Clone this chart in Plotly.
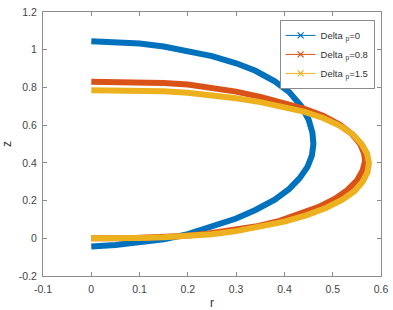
import plotly.graph_objects as go

# Delta_p = 0
r_d0 = [0.000, 0.050, 0.100, 0.150, 0.200, 0.250, 0.300, 0.340, 0.380, 0.410, 0.435, 0.450, 0.458,
        0.460, 0.457, 0.448, 0.432, 0.410, 0.380, 0.340, 0.300, 0.250, 0.200, 0.150, 0.100, 0.050, 0.000]
z_d0 = [1.045, 1.042, 1.033, 1.017, 0.995, 0.966, 0.928, 0.888, 0.832, 0.775, 0.700, 0.630, 0.560,
        0.500, 0.440, 0.380, 0.320, 0.262, 0.205, 0.150, 0.105, 0.060, 0.022, -0.005, -0.022, -0.035, -0.043]

# Delta_p = 0.8
r_d08 = [0.000, 0.050, 0.100, 0.150, 0.200, 0.250, 0.300, 0.350, 0.400, 0.440, 0.480, 0.515, 0.540,
         0.557, 0.565, 0.567, 0.562, 0.550, 0.530, 0.505, 0.470, 0.430, 0.390, 0.340, 0.290, 0.240,
         0.190, 0.140, 0.090, 0.040, 0.000]
z_d08 = [0.830, 0.830, 0.828, 0.824, 0.815, 0.800, 0.778, 0.750, 0.718, 0.688, 0.650, 0.602, 0.552,
         0.500, 0.450, 0.410, 0.360, 0.305, 0.255, 0.210, 0.165, 0.125, 0.092, 0.062, 0.040, 0.024,
         0.012, 0.005, 0.002, 0.000, 0.000]

# Delta_p = 1.5
r_d15 = [0.000, 0.050, 0.100, 0.150, 0.200, 0.250, 0.300, 0.350, 0.400, 0.440, 0.480, 0.515, 0.542,
         0.560, 0.571, 0.575, 0.572, 0.562, 0.545, 0.520, 0.487, 0.445, 0.400, 0.350, 0.300, 0.250,
         0.200, 0.150, 0.100, 0.050, 0.000]
z_d15 = [0.785, 0.785, 0.784, 0.780, 0.772, 0.760, 0.743, 0.722, 0.697, 0.672, 0.638, 0.596, 0.550,
         0.500, 0.450, 0.400, 0.350, 0.300, 0.250, 0.205, 0.162, 0.122, 0.088, 0.060, 0.038, 0.022,
         0.011, 0.005, 0.002, 0.001, 0.000]

series_names = ["Delta <sub>p</sub>=0", "Delta <sub>p</sub>=0.8", "Delta <sub>p</sub>=1.5"]
series_colors = ["#0072BD", "#D95319", "#EDB120"]

x_tickvals = [-0.1, 0, 0.1, 0.2, 0.3, 0.4, 0.5, 0.6]
x_ticktext = ["-0.1", "0", "0.1", "0.2", "0.3", "0.4", "0.5", "0.6"]
y_tickvals = [-0.2, 0, 0.2, 0.4, 0.6, 0.8, 1.0, 1.2]
y_ticktext = ["-0.2", "0", "0.2", "0.4", "0.6", "0.8", "1", "1.2"]

fig = go.Figure()
data = [(r_d0, z_d0), (r_d08, z_d08), (r_d15, z_d15)]
for (r, z), name, col in zip(data, series_names, series_colors):
    fig.add_trace(go.Scatter(x=r, y=z, mode="lines", line=dict(color=col, width=6),
                             showlegend=False, hoverinfo="skip"))
for name, col in zip(series_names, series_colors):
    fig.add_trace(go.Scatter(x=[None], y=[None], mode="lines+markers", name=name,
                             line=dict(color=col, width=1),
                             marker=dict(symbol="x-thin", size=6, line=dict(color=col, width=1.2))))

axis_common = dict(showgrid=False, zeroline=False, showline=True, linecolor="#8c8c8c", linewidth=1,
                   mirror="ticks", ticks="inside", ticklen=4, tickcolor="#8c8c8c", automargin=False,
                   tickfont=dict(family="Liberation Sans", size=10.5, color="#444"))

fig.update_layout(
    width=393, height=310,
    margin=dict(l=43, r=12, t=12, b=34, autoexpand=False),
    paper_bgcolor="white", plot_bgcolor="white",
    font=dict(family="Liberation Sans", size=11, color="#333"),
    xaxis=dict(range=[-0.1, 0.6], tickvals=x_tickvals, ticktext=x_ticktext, ticklabelstandoff=3,
               title=dict(text="r", standoff=5, font=dict(size=12, color="#333")), **axis_common),
    yaxis=dict(range=[-0.2, 1.2], tickvals=y_tickvals, ticktext=y_ticktext, ticklabelstandoff=3,
               title=dict(text="z", standoff=9, font=dict(size=12, color="#333")), **axis_common),
    legend=dict(x=0.70, y=0.97, xanchor="left", yanchor="top", bgcolor="white",
                bordercolor="#8c8c8c", borderwidth=1, itemwidth=30,
                font=dict(family="Liberation Sans", size=9.5, color="#333"),
                tracegroupgap=0),
    showlegend=True,
)

fig.write_html("out.html", config={"displayModeBar": False},
               post_script="document.body.style.margin='0';")
